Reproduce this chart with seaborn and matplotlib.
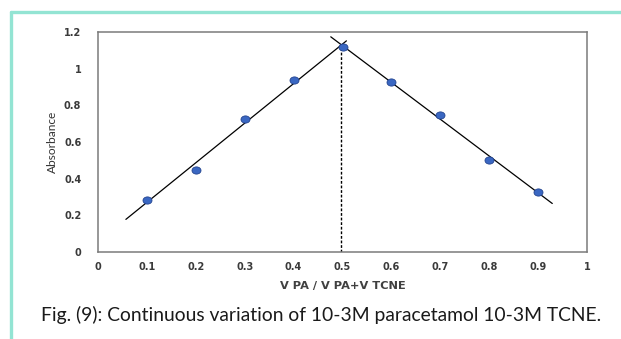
import numpy as np
import pandas as pd
import matplotlib
matplotlib.use("Agg")
import matplotlib.pyplot as plt
from matplotlib.lines import Line2D
from matplotlib.path import Path
import seaborn as sns

# Continuous-variation (Job's) data: mole fraction vs absorbance
mole_fraction = [0.1, 0.2, 0.3, 0.4, 0.5, 0.6, 0.7, 0.8, 0.9]
absorbance = [0.284, 0.447, 0.726, 0.938, 1.118, 0.927, 0.747, 0.502, 0.327]

# points used for each branch of the fit
rising_idx = [0, 1, 2, 3, 4]
falling_idx = [4, 5, 6, 7, 8]
# x extent of each drawn trend line
rising_span = (0.057, 0.508)
falling_span = (0.476, 0.929)

x_ticks = [0, 0.1, 0.2, 0.3, 0.4, 0.5, 0.6, 0.7, 0.8, 0.9, 1]
x_tick_labels = ["0", "0.1", "0.2", "0.3", "0.4", "0.5", "0.6", "0.7", "0.8", "0.9", "1"]
y_ticks = [0, 0.2, 0.4, 0.6, 0.8, 1.0, 1.2]
y_tick_labels = ["0", "0.2", "0.4", "0.6", "0.8", "1", "1.2"]

x_label = "V PA / V PA+V TCNE"
y_label = "Absorbance"
caption = "Fig. (9): Continuous variation of 10-3M paracetamol 10-3M TCNE."

sns.set_style("white")
plt.rcParams["font.family"] = ["DejaVu Sans"]

df = pd.DataFrame({"x": mole_fraction, "y": absorbance})

fig = plt.figure(figsize=(6.21, 3.39), dpi=100)
ax = fig.add_axes([98 / 621, 1 - 252 / 339, (587 - 98) / 621, (252 - 32) / 339])

# linear fits for both branches
xs = np.array(mole_fraction)
ys = np.array(absorbance)
p_up = np.polyfit(xs[rising_idx], ys[rising_idx], 1)
p_dn = np.polyfit(xs[falling_idx], ys[falling_idx], 1)

up_x = np.array(rising_span)
dn_x = np.array(falling_span)
fit_df = pd.concat([
    pd.DataFrame({"x": up_x, "y": np.polyval(p_up, up_x), "branch": "up"}),
    pd.DataFrame({"x": dn_x, "y": np.polyval(p_dn, dn_x), "branch": "down"}),
])
for _, part in fit_df.groupby("branch"):
    sns.lineplot(data=part, x="x", y="y", ax=ax, color="black", lw=0.9,
                 estimator=None, sort=False, legend=False)

# intersection of the two branches -> stoichiometric ratio
x_cross = (p_dn[1] - p_up[1]) / (p_up[0] - p_dn[0])
y_cross = np.polyval(p_up, x_cross)
ax.plot([x_cross, x_cross], [0, y_cross], color="black", lw=1.0,
        ls=(0, (2.0, 1.3)), zorder=1)

# slightly flattened round marker
circ = Path.unit_circle()
ellipse = Path(circ.vertices * np.array([1.0, 0.8]), circ.codes)

sns.scatterplot(data=df, x="x", y="y", ax=ax, s=42, color="#3A67C2",
                edgecolor="#23448F", linewidth=0.6, zorder=3,
                marker=ellipse, legend=False)

ax.set_xlim(0, 1)
ax.set_ylim(0, 1.2)
ax.set_xticks(x_ticks)
ax.set_xticklabels(x_tick_labels)
ax.set_yticks(y_ticks)
ax.set_yticklabels(y_tick_labels)
ax.tick_params(axis="both", length=0, labelsize=7, colors="#404040")
ax.tick_params(axis="x", pad=7)
ax.tick_params(axis="y", pad=12)
for lab in ax.get_xticklabels() + ax.get_yticklabels():
    lab.set_fontweight("bold")
    lab.set_color("#3a3a3a")

for side in ["left", "right", "top", "bottom"]:
    ax.spines[side].set_visible(True)
    ax.spines[side].set_color("#7a7a7a")
    ax.spines[side].set_linewidth(1.1)

ax.set_xlabel(x_label, fontsize=8.2, fontweight="bold", color="#404040", labelpad=7)
ax.set_ylabel(y_label, fontsize=8.6, color="#333333", family=["Lato", "DejaVu Sans"],
              labelpad=4)
ax.grid(False)

fig.text(321 / 621, 1 - 315 / 339, caption, ha="center", va="center",
         fontsize=13.9, family=["Lato", "DejaVu Sans"], color="#1a1a1a")

# teal page frame, open to the right and bottom
frame_color = "#93E4D3"
fig.add_artist(Line2D([10.5 / 621, 10.5 / 621], [0, 1 - 11.5 / 339],
                      transform=fig.transFigure, color=frame_color, lw=2.4))
fig.add_artist(Line2D([10.5 / 621, 1], [1 - 11.5 / 339, 1 - 11.5 / 339],
                      transform=fig.transFigure, color=frame_color, lw=2.4))

fig.savefig("out.png", dpi=100)
